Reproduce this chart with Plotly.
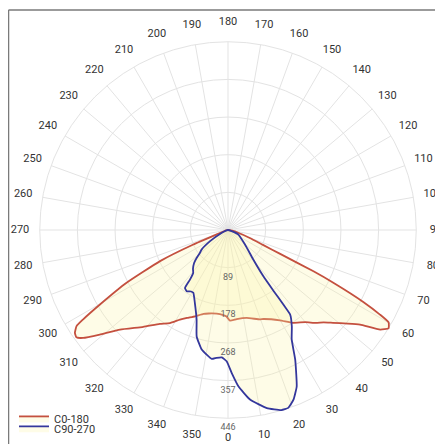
import plotly.graph_objects as go

# ---------------- data ----------------
angle_ticks = list(range(0, 360, 10))
angle_labels = [str(a) for a in angle_ticks]

radial_max = 446
radial_ticks = [89.2, 178.4, 267.6, 356.8, 446]
radial_labels = ["89", "178", "268", "357", "446"]

c0_theta = [270, 280, 288, 291, 292.7, 294.6, 297.5, 300.2, 301.7, 302.4, 303.9, 305.3,
            306.7, 309.2, 312.7, 318.8, 324, 328, 331.8, 335, 339.1, 343.7, 347, 352.3,
            356.8, 359, 1.3, 5.6, 12, 19.7, 21.7, 29.9, 34.8, 40, 43.4, 46, 48.5, 52,
            54.4, 56.8, 58.5, 60.1, 60.9, 62, 63.4, 64.2, 65.4, 67, 70, 75, 80, 90]
c0_r = [0, 3, 10, 25, 89, 177, 271, 351, 404, 425, 437, 440,
        428, 392, 348, 305, 275, 260, 241, 230, 219, 207, 203, 200,
        202, 205, 215, 212, 213, 225, 227, 247, 268, 285, 303, 315, 332, 360,
        385, 431, 446, 439, 412, 363, 279, 225, 136, 90, 55, 25, 10, 0]

c90_theta = [270, 285, 294, 302, 306.6, 309.2, 311.6, 314.2, 318, 321, 322.5, 323.4,
             326, 329, 331.1, 335.6, 340.7, 343.6, 347.6, 352.8, 354.9, 357.2, 359.4,
             1.5, 3.8, 7.4, 12.3, 16.5, 18.7, 21.1, 23.7, 27.4, 30.2, 33.5, 36.3, 36.6,
             36.8, 37.4, 40.6, 49.5, 66.4, 72, 90]
c90_r = [0, 5, 16, 50, 78, 86, 99, 112, 124, 131, 148, 171,
         175, 170, 170, 190, 225, 263, 290, 308, 304, 302, 311,
         339, 371, 405, 432, 445, 445, 431, 405, 346, 300, 274, 249, 220,
         181, 138, 92, 53, 27, 9, 0]

series_names = ["C0-180", "C90-270"]
series_colors = ["#c4503f", "#34379c"]
fill_color = "rgba(250,245,165,0.27)"
grid = "#e3e3e3"

# outer range leaves room for the angular labels on a ring outside the chart
label_ring = round(radial_max * 1.105, 1)

# ---------------- figure ----------------
fig = go.Figure()

# spokes every 10 degrees, from centre to the outer ring
spoke_theta, spoke_r = [], []
for a in angle_ticks:
    spoke_theta += [a, a, None]
    spoke_r += [0, radial_max, None]
fig.add_trace(go.Scatterpolar(
    theta=spoke_theta, r=spoke_r, mode="lines", line=dict(color=grid, width=1),
    showlegend=False, hoverinfo="skip", connectgaps=False))

fig.add_trace(go.Scatterpolar(
    theta=c0_theta, r=c0_r, mode="lines", name=series_names[0],
    line=dict(color=series_colors[0], width=1.8, shape="spline", smoothing=0.4),
    fill="toself", fillcolor=fill_color, legend="legend", hoverinfo="skip"))

fig.add_trace(go.Scatterpolar(
    theta=c90_theta, r=c90_r, mode="lines", name=series_names[1],
    line=dict(color=series_colors[1], width=1.8, shape="spline", smoothing=0.4),
    fill="toself", fillcolor=fill_color, legend="legend2", hoverinfo="skip"))

# radial tick labels along the 0° spoke
fig.add_trace(go.Scatterpolar(
    theta=[0] * len(radial_ticks), r=radial_ticks, mode="markers+text", text=radial_labels,
    marker=dict(size=7, color="rgba(0,0,0,0)"),
    textposition="bottom center", textfont=dict(size=9, color="#666666", family="Roboto"),
    showlegend=False, hoverinfo="skip", cliponaxis=False))

# angular tick labels centred on a ring just outside the outer circle
fig.add_trace(go.Scatterpolar(
    theta=angle_ticks, r=[label_ring] * len(angle_ticks), mode="text", text=angle_labels,
    textposition="middle center", textfont=dict(size=11, color="#333333", family="Roboto"),
    showlegend=False, hoverinfo="skip", cliponaxis=False))

fig.update_layout(
    width=435, height=436,
    margin=dict(l=12, r=7, t=14, b=6, autoexpand=False),
    paper_bgcolor="white", plot_bgcolor="white",
    font=dict(family="Roboto", size=11, color="#333333"),
    polar=dict(
        bgcolor="white",
        angularaxis=dict(rotation=270, direction="counterclockwise",
                         showticklabels=False, ticks="",
                         showgrid=False, showline=False),
        radialaxis=dict(range=[0, label_ring], tickmode="array", tickvals=radial_ticks,
                        showticklabels=False, ticks="", showline=False,
                        showgrid=True, gridcolor=grid, gridwidth=1, angle=270),
    ),
    legend=dict(x=-0.0144, y=0.0471, xanchor="left", yanchor="middle",
                bgcolor="rgba(0,0,0,0)", font=dict(size=11, color="#333333", family="Roboto")),
    legend2=dict(x=-0.0144, y=0.0233, xanchor="left", yanchor="middle",
                 bgcolor="rgba(0,0,0,0)", font=dict(size=11, color="#333333", family="Roboto")),
    shapes=[
        dict(type="line", xref="paper", yref="paper", x0=-0.0276, x1=-0.0276,
             y0=1.0288, y1=-0.2, line=dict(color="#7a7a7a", width=1.5)),
        dict(type="line", xref="paper", yref="paper", x0=-0.0276, x1=1.2,
             y0=1.0288, y1=1.0288, line=dict(color="#7a7a7a", width=1.5)),
    ],
)

fig.write_html("out.html")
